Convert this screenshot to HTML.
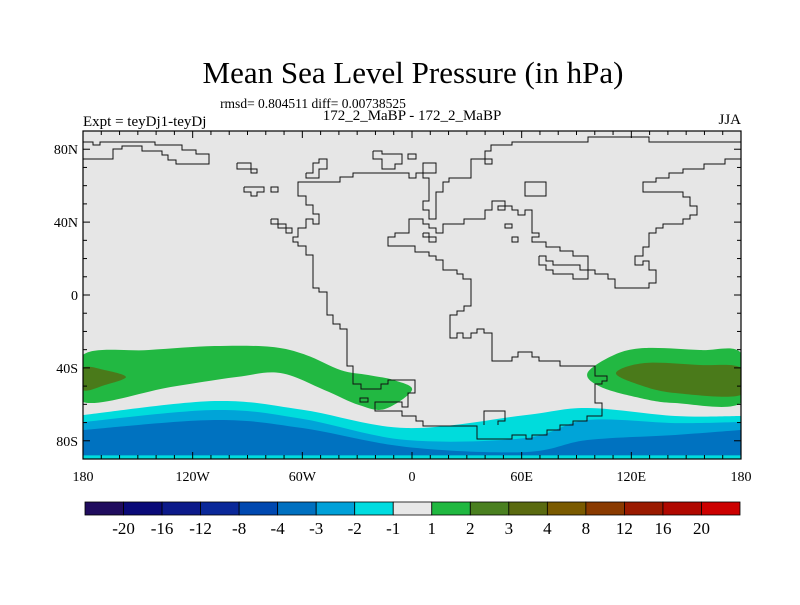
<!DOCTYPE html>
<html><head><meta charset="utf-8"><style>
body{margin:0;background:#fff;}
svg text{font-family:"Liberation Serif",serif;fill:#000;}
</style></head><body>
<svg id="c" width="800" height="600" xmlns="http://www.w3.org/2000/svg">
<text x="413" y="83" font-size="31" text-anchor="middle">Mean Sea Level Pressure (in hPa)</text>
<text x="313" y="108" font-size="13.5" text-anchor="middle">rmsd= 0.804511 diff= 0.00738525</text>
<text x="83" y="126" font-size="15">Expt = teyDj1-teyDj</text>
<text x="412" y="120" font-size="15" text-anchor="middle">172_2_MaBP - 172_2_MaBP</text>
<text x="741" y="124" font-size="15" text-anchor="end">JJA</text>
<g id="plot"></g>
<g id="cbar"></g>
</svg>
<script>
const bandLons=[-180,-108,-60,-3,62,96,144,180];
const cyanTop=[-65.9,-58.2,-63,-73,-65.9,-62,-66.4,-66.4];
const blueTop=[-69.7,-63.1,-68,-79.6,-78.5,-68.6,-70.3,-69.7];
const darkTop=[-74.1,-68.6,-73,-83.4,-86.2,-79.6,-76.8,-74.1];
const greenWLon=[-180,-144,-108,-77,-58,-39,-24,-10,0,-15,-29,-48,-72,-96,-132,-180];
const greenWLat=[-32.9,-30.2,-28,-28.5,-32.9,-41.2,-43.9,-46.7,-52.1,-62.6,-60.4,-52.1,-42.8,-45,-50.5,-58.7];
const dgWLon=[-180,-168,-156.5,-168,-180];
const dgWLat=[-40,-41.2,-45,-49.4,-52.1];
const greenELon=[96,110.5,127.4,157.5,180,180,144,124.7,103.4];
const greenELat=[-42.8,-32.9,-29.1,-30.2,-31.8,-59.3,-59.3,-56.5,-50.5];
const dgELon=[111.6,127.4,157.5,180,180,144,124.7];
const dgELat=[-42.8,-37.3,-38.4,-40,-54.9,-53.8,-49.4];
const cbLabels=["-20","-16","-12","-8","-4","-3","-2","-1","1","2","3","4","8","12","16","20"];
const cbColors=["#200c5e","#0a0a78","#0c1a8a","#0a2899","#0048b0","#0070c0","#00a0d8","#00dce0","#e8e8e8","#20b840","#4a8020","#5a6a10","#7a5a00","#8a3a00","#9a1a00","#b00800","#cc0000"];
const xTickLabels=["180","120W","60W","0","60E","120E","180"];
const xTickLons=[-180,-120,-60,0,60,120,180];
const yTickLabels=["80N","40N","0","40S","80S"];
const yTickLats=[80,40,0,-40,-80];

const L=83,R=741,T=131,B=459;
const X=lon=>L+(lon+180)*(R-L)/360;
const Y=lat=>T+(90-lat)*(B-T)/180;
const NS="http://www.w3.org/2000/svg";
const plot=document.getElementById('plot');
function mk(tag,attrs,parent){const e=document.createElementNS(NS,tag);for(const k in attrs)e.setAttribute(k,attrs[k]);(parent||plot).appendChild(e);return e;}
function cr(pts,closed){
  const n=pts.length;let d="M"+pts[0][0]+","+pts[0][1];
  const g=i=>closed?pts[(i+n)%n]:pts[Math.max(0,Math.min(n-1,i))];
  const m=closed?n:n-1;
  for(let i=0;i<m;i++){const p0=g(i-1),p1=g(i),p2=g(i+1),p3=g(i+2);
    d+=` C${p1[0]+(p2[0]-p0[0])/6},${p1[1]+(p2[1]-p0[1])/6} ${p2[0]-(p3[0]-p1[0])/6},${p2[1]-(p3[1]-p1[1])/6} ${p2[0]},${p2[1]}`;}
  return d;}
const clip=mk('clipPath',{id:'pc'});mk('rect',{x:L,y:T,width:R-L,height:B-T},clip);
let e=mk('rect',{x:L,y:T,width:R-L,height:B-T,fill:'#e6e6e6'});


const g=mk('g',{'clip-path':'url(#pc)'});
function band(tops,color,name){
  const pts=bandLons.map((lo,i)=>[X(lo),Y(tops[i])]);
  const p=mk('path',{d:cr(pts,false)+` L${R},${B+2} L${L},${B+2} Z`,fill:color},g);
  
  }
band(cyanTop,'#00dcdc','contour-band-minus2-minus1');
band(blueTop,'#00a4d8','contour-band-minus3-minus2');
band(darkTop,'#0072c0','contour-band-minus4-minus3');
e=mk('rect',{x:L,y:Y(-88),width:R-L,height:B-Y(-88),fill:'#00dcdc'},g);


function blob(lons,lats,color,name){
  const pts=lons.map((lo,i)=>[X(lo),Y(lats[i])]);
  const p=mk('path',{d:cr(pts,true),fill:color},g);
  
  }
blob(greenWLon,greenWLat,'#22b842','contour-band-1-2-west');
blob(dgWLon,dgWLat,'#4a7a1a','contour-band-2-3-west');
blob(greenELon,greenELat,'#22b842','contour-band-1-2-east');
blob(dgELon,dgELat,'#4a7a1a','contour-band-2-3-east');
const coast=[
"83,142 93,142 93,145 100,145 100,142 155,142 155,145 182,145 182,150 196,150 196,154 209,154 209,164 176,164 176,160 168,160 168,155 162,155 162,151 142,151 142,146 122,146 122,149 113,149 113,159 83,159",
"741,142 649,142 649,137 588,137 588,142 512,142 512,145 491,145 491,151 485,151 485,159 471,159 471,178 449,178 449,182 443,182 443,192 436,192 436,219 429,219 429,210 423,210 423,201 429,201 429,178 423,178 423,173 416,173 416,178 409,178 409,173 353,173 353,177 340,177 340,182 298,182 298,196 306,196 306,205 313,205 313,214 319,214 319,224 313,224 313,219 306,219 306,228 298,228 298,237 293,237 293,242 298,242 298,246 306,246 306,255 313,255 313,288 319,288 319,292 327,292 327,315 333,315 333,324 340,324 340,329 347,329 347,366 353,366 353,384 361,384 361,389 381,389 381,384 388,384 388,380 415,380 415,393 408,393 408,407 402,407 402,402 375,402 375,411 402,411 402,416 416,416 416,421 423,421 423,426 477,426 477,439 512,439 512,435 526,435 526,439 532,439 532,435 547,435 547,430 560,430 560,425 573,425 573,421 587,421 587,416 602,416 602,403 595,403 595,384 602,384 602,381 607,381 607,376 595,376 595,366 560,366 560,361 539,361 539,357 532,357 532,352 518,352 518,357 512,357 512,361 492,361 492,333 484,333 484,329 477,329 477,333 471,333 471,338 463,338 463,333 457,333 457,338 450,338 450,315 457,315 457,311 464,311 464,306 471,306 471,279 463,279 463,274 457,274 457,270 443,270 443,260 436,260 436,256 429,256 429,252 415,252 415,246 388,246 388,237 395,237 395,233 409,233 409,219 423,219 423,224 429,224 429,228 436,228 436,233 443,233 443,224 464,224 464,219 485,219 485,210 492,210 492,201 505,201 505,206 512,206 512,210 518,210 518,215 525,215 525,210 532,210 532,233 539,233 539,237 532,237 532,242 546,242 546,247 560,247 560,251 573,251 573,256 588,256 588,270 595,270 595,274 608,274 608,279 615,279 615,288 649,288 649,283 656,283 656,270 649,270 649,261 643,261 643,265 635,265 635,256 643,256 643,247 649,247 649,233 656,233 656,228 663,228 663,224 683,224 683,219 690,219 690,215 697,215 697,206 690,206 690,197 683,197 683,192 643,192 643,182 656,182 656,178 669,178 669,173 683,173 683,169 704,169 704,164 725,164 725,159 741,159",
"484,425 484,411 505,411 505,421 498,421 498,425",
"539,256 546,256 546,261 553,261 553,265 580,265 580,270 588,270 588,279 573,279 573,274 553,274 553,270 546,270 546,265 539,265 539,256",
"373,151 382,151 382,154 402,154 402,164 395,164 395,169 382,169 382,159 373,159 373,151",
"306,173 313,173 313,163 319,163 319,159 327,159 327,169 319,169 319,178 306,178 306,173",
"237,163 251,163 251,169 257,169 257,173 251,173 251,169 237,169 237,163",
"244,187 264,187 264,192 257,192 257,196 251,196 251,192 244,192 244,187",
"271,219 278,219 278,224 286,224 286,228 292,228 292,233 286,233 286,228 278,228 278,224 271,224 271,219",
"423,233 429,233 429,237 436,237 436,242 429,242 429,237 423,237 423,233"];
coast.forEach(c=>{const p=mk('polyline',{points:c,fill:'none',stroke:'#111','stroke-width':1},g);
  
  });
[[408,154,8,5],[485,159,7,5],[423,163,13,10],[525,182,21,14],[498,206,7,4],[505,224,7,4],[512,237,6,5],[271,187,7,5],[360,398,8,4]].forEach(r=>{
  const p=mk('rect',{x:r[0],y:r[1],width:r[2],height:r[3],fill:'none',stroke:'#111','stroke-width':1},g);
  
  });
e=mk('rect',{x:L,y:T,width:R-L,height:B-T,fill:'none',stroke:'#000','stroke-width':1.2});


for(let lo=-180;lo<=180;lo+=10){const len=lo%60===0?7:4;
  mk('line',{x1:X(lo),x2:X(lo),y1:B,y2:B-len,stroke:'#000'});mk('line',{x1:X(lo),x2:X(lo),y1:T,y2:T+len,stroke:'#000'});}
for(let la=-90;la<=90;la+=10){const len=la%40===0?7:4;
  mk('line',{x1:L,x2:L+len,y1:Y(la),y2:Y(la),stroke:'#000'});mk('line',{x1:R,x2:R-len,y1:Y(la),y2:Y(la),stroke:'#000'});}
xTickLabels.forEach((t,i)=>{const tx=mk('text',{x:X(xTickLons[i]),y:B+22,'font-size':14,'text-anchor':'middle'});tx.textContent=t;
  
  });
yTickLabels.forEach((t,i)=>{const tx=mk('text',{x:L-5,y:Y(yTickLats[i])+5,'font-size':14,'text-anchor':'end'});tx.textContent=t;
  
  });
const cb=document.getElementById('cbar');const cx0=85,cx1=740,cy=502,ch=13;const bw=(cx1-cx0)/cbColors.length;
cbColors.forEach((c,i)=>{const r=mk('rect',{x:cx0+i*bw,y:cy,width:bw,height:ch,fill:c,stroke:'#000','stroke-width':0.8},cb);
  
  });
cbLabels.forEach((t,i)=>{const tx=mk('text',{x:cx0+(i+1)*bw,y:cy+ch+19,'font-size':17,'text-anchor':'middle'},cb);tx.textContent=t;
  
  });
</script>
</body></html>
